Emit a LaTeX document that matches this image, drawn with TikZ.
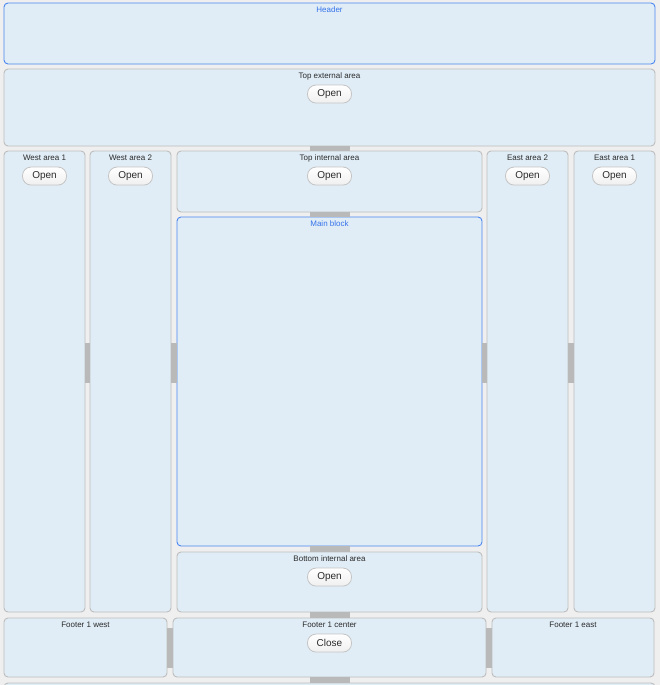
\documentclass[tikz,border=0pt]{standalone}
\usepackage{fontspec}
\setmainfont{Liberation Sans}
\usetikzlibrary{calc}
\definecolor{bgc}{HTML}{EFEFEF}
\definecolor{panelfill}{HTML}{E0EDF6}
\definecolor{panelline}{HTML}{BDBDBD}
\definecolor{bluel}{HTML}{4A86F0}
\definecolor{bluet}{HTML}{3572EA}
\definecolor{handlec}{HTML}{B9B9B9}
\definecolor{txt}{HTML}{2B2B2B}
\definecolor{btnline}{HTML}{C4C4C4}
\tikzset{
  panel/.style={draw=panelline, fill=panelfill, line width=0.9pt, rounded corners=4pt, inner sep=0pt},
  bluepanel/.style={panel, draw=bluel},
  lbl/.style={font=\fontsize{8}{9}\selectfont, text=txt, inner sep=0pt},
  bluelbl/.style={lbl, text=bluet},
  btn/.style={draw=btnline, top color=white, bottom color=black!6, line width=0.8pt, rounded corners=8.5pt,
    minimum width=44pt, minimum height=18pt, inner sep=0pt, font=\fontsize{10}{12}\selectfont, text=txt},
  handle/.style={fill=handlec}
}
\begin{document}
\begin{tikzpicture}[x=1pt, y=-1pt]
\clip (0,0) rectangle (660,685);
\fill[bgc] (0,0) rectangle (660,685);
% panels
\node[bluepanel, minimum width=651pt, minimum height=61pt] (header) at (329.5,33.5) {};
\node[panel, minimum width=651pt, minimum height=77pt] (topext) at (329.5,107.5) {};
\node[panel, minimum width=81pt, minimum height=461pt] (west1) at (44.5,381.5) {};
\node[panel, minimum width=81pt, minimum height=461pt] (west2) at (130.5,381.5) {};
\node[panel, minimum width=305pt, minimum height=61pt] (topint) at (329.5,181.5) {};
\node[bluepanel, minimum width=305pt, minimum height=329pt] (main) at (329.5,381.5) {};
\node[panel, minimum width=305pt, minimum height=60pt] (botint) at (329.5,582) {};
\node[panel, minimum width=81pt, minimum height=461pt] (east2) at (527.5,381.5) {};
\node[panel, minimum width=81pt, minimum height=461pt] (east1) at (614.5,381.5) {};
\node[panel, minimum width=163pt, minimum height=59pt] (fwest) at (85.5,647.5) {};
\node[panel, minimum width=313pt, minimum height=59pt] (fcenter) at (329.5,647.5) {};
\node[panel, minimum width=162pt, minimum height=59pt] (feast) at (573,647.5) {};
\node[panel, minimum width=651pt, minimum height=34pt] (bottom) at (329.5,700) {};
% handles
\fill[handle] ($(topext.south)+(-20,0)$) rectangle ($(topint.north)+(20,0)$);
\fill[handle] ($(topint.south)+(-20,0)$) rectangle ($(main.north)+(20,0)$);
\fill[handle] ($(main.south)+(-20,0)$) rectangle ($(botint.north)+(20,0)$);
\fill[handle] ($(botint.south)+(-20,0)$) rectangle ($(fcenter.north)+(20,0)$);
\fill[handle] ($(fcenter.south)+(-20,0)$) rectangle ($(bottom.north)+(20,0)$);
\fill[handle] ($(west1.east)+(0,-38.5)$) rectangle ($(west2.west)+(0,1.5)$);
\fill[handle] ($(west2.east)+(0,-38.5)$) rectangle ($(main.west)+(0,1.5)$);
\fill[handle] ($(main.east)+(0,-38.5)$) rectangle ($(east2.west)+(0,1.5)$);
\fill[handle] ($(east2.east)+(0,-38.5)$) rectangle ($(east1.west)+(0,1.5)$);
\fill[handle] ($(fwest.east)+(0,-20)$) rectangle ($(fcenter.west)+(0,20)$);
\fill[handle] ($(fcenter.east)+(0,-20)$) rectangle ($(feast.west)+(0,20)$);
% labels
\node[bluelbl] (headerlbl) at ($(header.north)+(0,7.5)$) {Header};
\node[lbl] (topextlbl) at ($(topext.north)+(0,7.5)$) {Top external area};
\node[btn] (topextbtn) at ($(topext.north)+(0,25.5)$) {Open};
\node[lbl] (west1lbl) at ($(west1.north)+(0,7.5)$) {West area 1};
\node[btn] (west1btn) at ($(west1.north)+(0,25.5)$) {Open};
\node[lbl] (west2lbl) at ($(west2.north)+(0,7.5)$) {West area 2};
\node[btn] (west2btn) at ($(west2.north)+(0,25.5)$) {Open};
\node[lbl] (topintlbl) at ($(topint.north)+(0,7.5)$) {Top internal area};
\node[btn] (topintbtn) at ($(topint.north)+(0,25.5)$) {Open};
\node[bluelbl] (mainlbl) at ($(main.north)+(0,7.5)$) {Main block};
\node[lbl] (botintlbl) at ($(botint.north)+(0,7.5)$) {Bottom internal area};
\node[btn] (botintbtn) at ($(botint.north)+(0,25.5)$) {Open};
\node[lbl] (east2lbl) at ($(east2.north)+(0,7.5)$) {East area 2};
\node[btn] (east2btn) at ($(east2.north)+(0,25.5)$) {Open};
\node[lbl] (east1lbl) at ($(east1.north)+(0,7.5)$) {East area 1};
\node[btn] (east1btn) at ($(east1.north)+(0,25.5)$) {Open};
\node[lbl] (fwestlbl) at ($(fwest.north)+(0,7.5)$) {Footer 1 west};
\node[lbl] (fcenterlbl) at ($(fcenter.north)+(0,7.5)$) {Footer 1 center};
\node[btn] (fcenterbtn) at ($(fcenter.north)+(0,25.5)$) {Close};
\node[lbl] (feastlbl) at ($(feast.north)+(0,7.5)$) {Footer 1 east};
\end{tikzpicture}
\end{document}
